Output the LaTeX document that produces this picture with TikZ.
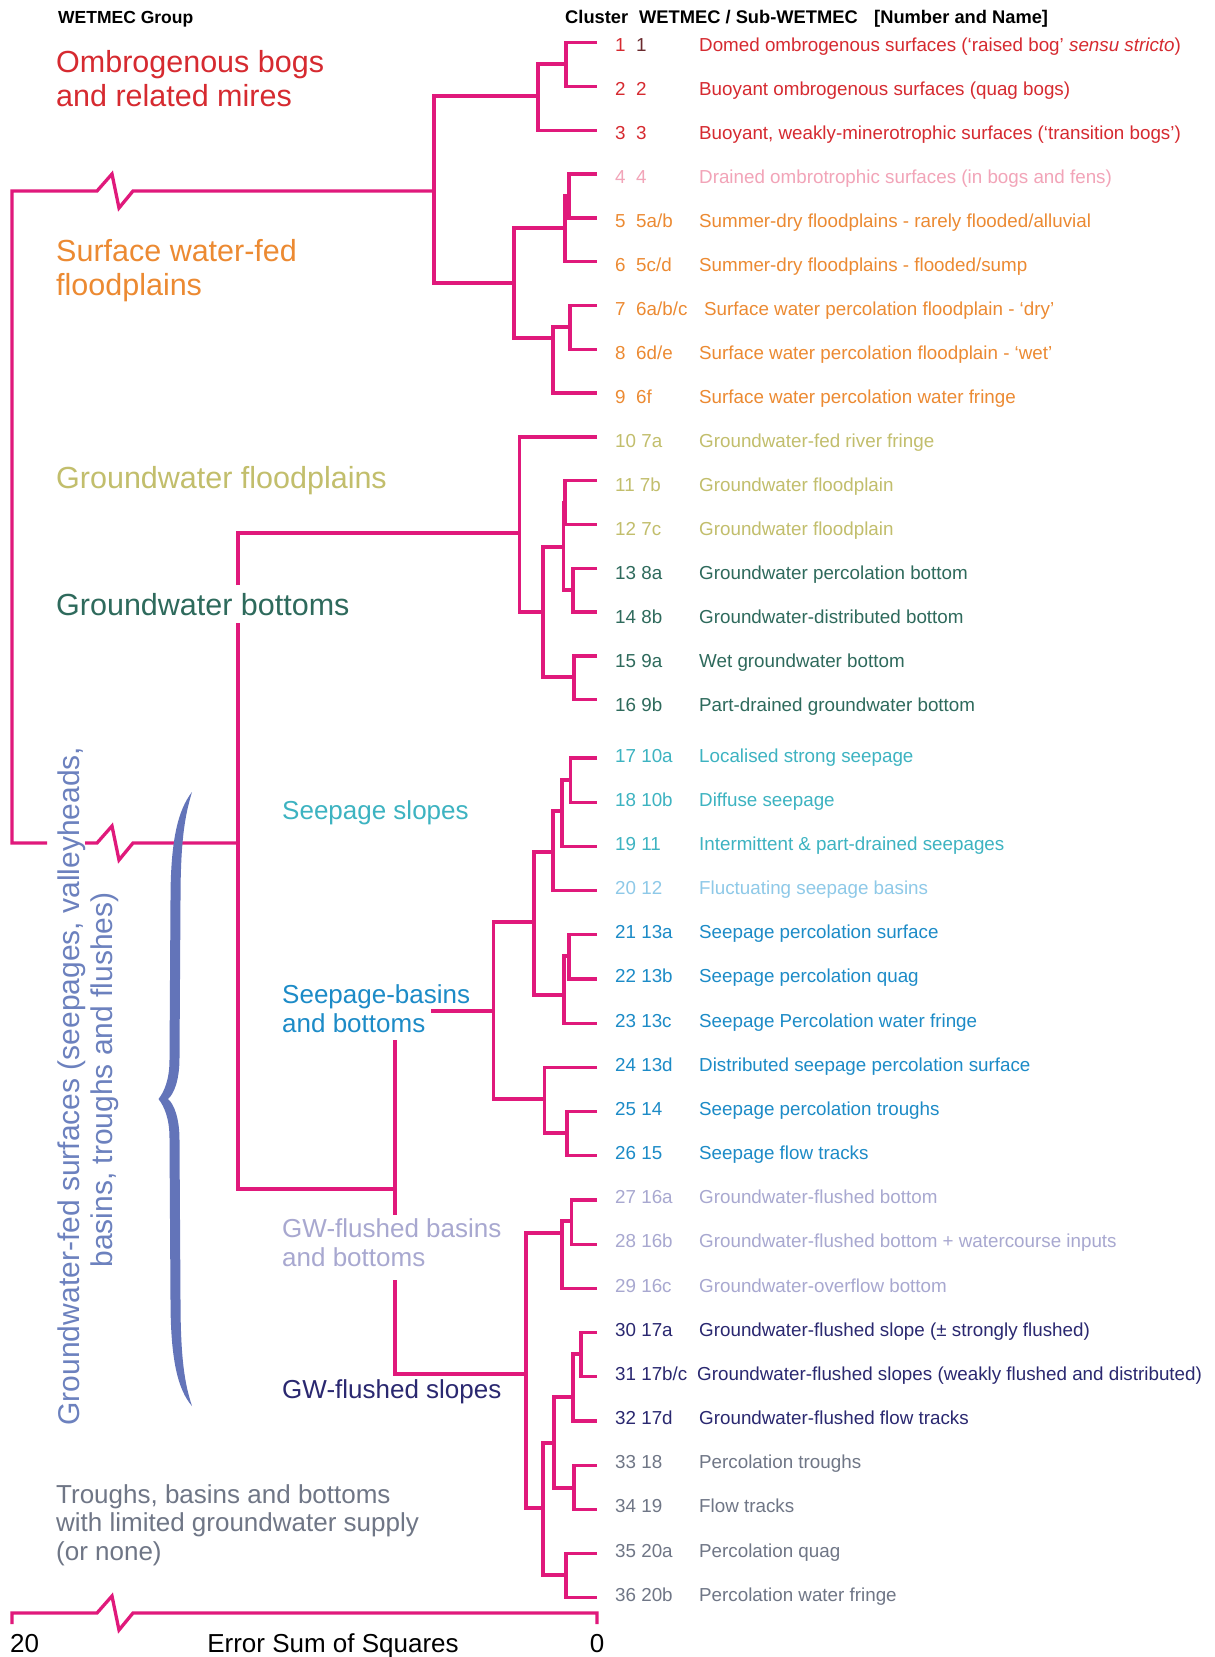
\documentclass[tikz,border=0pt]{standalone}
\usepackage{fontspec}
\setmainfont{Liberation Sans}
\usetikzlibrary{calc}

% palette
\definecolor{mag}{HTML}{E0197B}
\definecolor{cRed}{HTML}{D62A30}
\definecolor{cDark}{HTML}{6A2A2E}
\definecolor{cPink}{HTML}{F2A4B8}
\definecolor{cOrange}{HTML}{EC8A32}
\definecolor{cOlive}{HTML}{C2BE6C}
\definecolor{cDTeal}{HTML}{2E6A5C}
\definecolor{cTeal}{HTML}{3DB3C1}
\definecolor{cLBlue}{HTML}{8EC9E8}
\definecolor{cBlue}{HTML}{1C8BC7}
\definecolor{cLav}{HTML}{A8A8D0}
\definecolor{cNavy}{HTML}{2A2870}
\definecolor{cGrey}{HTML}{6F7686}
\definecolor{cSlate}{HTML}{6C81BE}
\definecolor{cBrace}{HTML}{6374B9}

% type sizes
\newcommand\fLeaf{\fontsize{18.8}{22}\selectfont}
\newcommand\fHead{\fontsize{18.3}{22}\selectfont\bfseries}
\newcommand\fHeadL{\fontsize{17.5}{22}\selectfont\bfseries}
\newcommand\fGrp{\fontsize{30.5}{34}\selectfont}
\newcommand\fSub{\fontsize{26}{29}\selectfont}
\newcommand\fRot{\fontsize{30}{34}\selectfont}

\tikzset{
  br/.style={draw=mag,line width=3.3pt,line join=miter},
  leaf/.style={anchor=base west,inner sep=0pt,font=\fLeaf},
  grp/.style={anchor=base west,inner sep=0pt,font=\fGrp},
  sublbl/.style={anchor=base west,inner sep=0pt,font=\fSub},
  head/.style={anchor=base west,inner sep=0pt},
}

% \jn{name}{x}{y}{child1}{child2}: merge two branches at column x
\newcommand\jn[5]{%
  \coordinate (#1) at (#2,#3);
  \draw[br] (#4) -- (#4 -| #1) -- (#5 -| #1) -- (#5);
}
% \leaf{row}{cluster / code}{name}{colour}
\newcommand\leaf[4]{%
  \node[leaf,text=#4] (k#1) at (T#1) {#2};
  \node[leaf,text=#4] (t#1) at ($(T#1)+(84,0)$) {#3};
}
\newcommand\two[2]{\makebox[21pt][l]{#1}#2}

\begin{document}
\begin{tikzpicture}[x=1pt,y=-1pt]
\useasboundingbox (0,0) rectangle (1215,1657);
\fill[white] (0,0) rectangle (1215,1657);

% leaf tips and label baselines
\foreach \i in {1,...,36}{
  \pgfmathsetmacro\yy{(\i<17) ? 42.7+(\i-1)*43.8 : 758+(\i-17)*44.2}
  \pgfmathsetmacro\ty{(\i<17) ? 51.1+(\i-1)*44.02 : 762.1+(\i-17)*44.16}
  \coordinate (L\i) at (597,\yy);
  \coordinate (T\i) at (615,\ty);
}

% ombrogenous and surface-water branches
\jn{n12}{566}{64}{L1}{L2}
\jn{n123}{538}{96}{n12}{L3}
\jn{n45}{569}{196}{L4}{L5}
\jn{n456}{565}{228}{n45}{L6}
\jn{n78}{570}{327}{L7}{L8}
\jn{n789}{553}{338}{n78}{L9}
\jn{n49}{514}{283}{n456}{n789}
\jn{nA}{434}{191}{n123}{n49}

% groundwater floodplains and bottoms
\jn{n1112}{565}{503}{L11}{L12}
\jn{n1314}{573}{590}{L13}{L14}
\jn{n1114}{563.5}{547}{n1112}{n1314}
\jn{n1516}{574}{677}{L15}{L16}
\jn{n1116}{543}{612}{n1114}{n1516}
\jn{nB}{519.5}{533}{L10}{n1116}

% seepage slopes, basins and bottoms
\jn{n1718}{570.5}{780}{L17}{L18}
\jn{n1719}{562}{811}{n1718}{L19}
\jn{n1720}{553}{852}{n1719}{L20}
\jn{n2122}{569}{956}{L21}{L22}
\jn{n2123}{564}{995}{n2122}{L23}
\jn{n1723}{534}{922}{n1720}{n2123}
\jn{n2526}{567}{1133}{L25}{L26}
\jn{n2426}{544.5}{1099}{L24}{n2526}
\jn{nC}{493.5}{1011}{n1723}{n2426}

% groundwater-flushed branches
\jn{n2728}{571.5}{1221}{L27}{L28}
\jn{n2729}{562}{1233}{n2728}{L29}
\jn{n3031}{581}{1354}{L30}{L31}
\jn{n3032}{573}{1397}{n3031}{L32}
\jn{n3334}{574}{1488}{L33}{L34}
\jn{n3034}{554}{1443}{n3032}{n3334}
\jn{n3536}{566}{1575}{L35}{L36}
\jn{n3036}{543}{1508}{n3034}{n3536}
\jn{nD}{526}{1374}{n2729}{n3036}

% upper joins, broken where labels sit on them
\coordinate (nE) at (395,1189);
\coordinate (nF) at (238,843);
\coordinate (cS) at (431,1011);
\coordinate (eA) at (395,1040);
\coordinate (eB) at (395,1215);
\coordinate (eC) at (395,1280);
\coordinate (fA) at (238,585);
\coordinate (fB) at (238,623);
\coordinate (rA) at (47,843);
\coordinate (rB) at (85,843);
\draw[br] (nC) -- (cS);
\draw[br] (eA) -- (eB);
\draw[br] (eC) -- (nD -| nE) -- (nD);
\draw[br] (nE) -- (nE -| nF) -- (fB);
\draw[br] (fA) -- (nB -| nF) -- (nB);
\draw[br] (nA) -- (133,191) -- (119,208) -- (112,174) -- (97,191)
          -- (12,191) -- (12,843) -- (rA);
\draw[br] (rB) -- (97,843) -- (112,826) -- (119,860) -- (133,843) -- (nF);

% axis
\coordinate (ax0) at (12,1613);
\coordinate (ax1) at (597,1613);
\draw[br] (ax0 |- 0,1624) -- (ax0) -- (97,1613) -- (112,1596) -- (119,1630)
          -- (133,1613) -- (ax1) -- (ax1 |- 0,1624);
\node[sublbl] (a20) at (10,1652) {20};
\node[sublbl,anchor=base] (aT) at (333,1652) {Error Sum of Squares};
\node[sublbl,anchor=base] (a0) at (597,1652) {0};

% headers
\node[head,font=\fHeadL] (h1) at (58,23.5) {WETMEC Group};
\node[head,font=\fHead] (h2) at (565,23.5) {Cluster};
\node[head,font=\fHead] (h3) at (639,23.5) {WETMEC / Sub-WETMEC};
\node[head,font=\fHead] (h4) at (874,23.5) {[Number and Name]};

% leaf labels
\node[leaf,text=cRed] (k1) at (T1) {\two{1}{\textcolor{cDark}{1}}};
\node[leaf,text=cRed] (t1) at ($(T1)+(84,0)$) {Domed ombrogenous surfaces (`raised bog' \textit{sensu stricto})};
\leaf{2}{\two{2}{2}}{Buoyant ombrogenous surfaces (quag bogs)}{cRed}
\leaf{3}{\two{3}{3}}{Buoyant, weakly-minerotrophic surfaces (`transition bogs')}{cRed}
\leaf{4}{\two{4}{4}}{Drained ombrotrophic surfaces (in bogs and fens)}{cPink}
\leaf{5}{\two{5}{5a/b}}{Summer-dry floodplains - rarely flooded/alluvial}{cOrange}
\leaf{6}{\two{6}{5c/d}}{Summer-dry floodplains - flooded/sump}{cOrange}
\leaf{7}{\two{7}{6a/b/c}}{\hspace*{5pt}Surface water percolation floodplain - `dry'}{cOrange}
\leaf{8}{\two{8}{6d/e}}{Surface water percolation floodplain - `wet'}{cOrange}
\leaf{9}{\two{9}{6f}}{Surface water percolation water fringe}{cOrange}
\leaf{10}{10 7a}{Groundwater-fed river fringe}{cOlive}
\leaf{11}{11 7b}{Groundwater floodplain}{cOlive}
\leaf{12}{12 7c}{Groundwater floodplain}{cOlive}
\leaf{13}{13 8a}{Groundwater percolation bottom}{cDTeal}
\leaf{14}{14 8b}{Groundwater-distributed bottom}{cDTeal}
\leaf{15}{15 9a}{Wet groundwater bottom}{cDTeal}
\leaf{16}{16 9b}{Part-drained groundwater bottom}{cDTeal}
\leaf{17}{17 10a}{Localised strong seepage}{cTeal}
\leaf{18}{18 10b}{Diffuse seepage}{cTeal}
\leaf{19}{19 11}{Intermittent \& part-drained seepages}{cTeal}
\leaf{20}{20 12}{Fluctuating seepage basins}{cLBlue}
\leaf{21}{21 13a}{Seepage percolation surface}{cBlue}
\leaf{22}{22 13b}{Seepage percolation quag}{cBlue}
\leaf{23}{23 13c}{Seepage Percolation water fringe}{cBlue}
\leaf{24}{24 13d}{Distributed seepage percolation surface}{cBlue}
\leaf{25}{25 14}{Seepage percolation troughs}{cBlue}
\leaf{26}{26 15}{Seepage flow tracks}{cBlue}
\leaf{27}{27 16a}{Groundwater-flushed bottom}{cLav}
\leaf{28}{28 16b}{Groundwater-flushed bottom + watercourse inputs}{cLav}
\leaf{29}{29 16c}{Groundwater-overflow bottom}{cLav}
\leaf{30}{30 17a}{Groundwater-flushed slope (± strongly flushed)}{cNavy}
\leaf{31}{31 17b/c}{\hspace*{-2pt}Groundwater-flushed slopes (weakly flushed and distributed)}{cNavy}
\leaf{32}{32 17d}{Groundwater-flushed flow tracks}{cNavy}
\leaf{33}{33 18}{Percolation troughs}{cGrey}
\leaf{34}{34 19}{Flow tracks}{cGrey}
\leaf{35}{35 20a}{Percolation quag}{cGrey}
\leaf{36}{36 20b}{Percolation water fringe}{cGrey}

% group labels
\node[grp,text=cRed] (g1a) at (56,72.5) {Ombrogenous bogs};
\node[grp,text=cRed] (g1b) at (56,106.5) {and related mires};
\node[grp,text=cOrange] (g2a) at (56,261) {Surface water-fed};
\node[grp,text=cOrange] (g2b) at (56,295) {floodplains};
\node[grp,text=cOlive] (g3) at (56,488) {Groundwater floodplains};
\node[grp,text=cDTeal] (g4) at (56,615) {Groundwater bottoms};
\node[sublbl,text=cTeal] (g5) at (282,819) {Seepage slopes};
\node[sublbl,text=cBlue] (g6a) at (282,1003.5) {Seepage-basins};
\node[sublbl,text=cBlue] (g6b) at (282,1032.5) {and bottoms};
\node[sublbl,text=cLav] (g7a) at (282,1237) {GW-flushed basins};
\node[sublbl,text=cLav] (g7b) at (282,1266) {and bottoms};
\node[sublbl,text=cNavy] (g8) at (282,1398.5) {GW-flushed slopes};
\node[sublbl,text=cGrey] (g9a) at (56,1503) {Troughs, basins and bottoms};
\node[sublbl,text=cGrey] (g9b) at (56,1531) {with limited groundwater supply};
\node[sublbl,text=cGrey] (g9c) at (56,1560) {(or none)};

% side title and brace
\node[font=\fRot,text=cSlate,rotate=90,anchor=base,inner sep=0pt] (s1) at (79,1086)
  {Groundwater-fed surfaces (seepages, valleyheads,};
\node[font=\fRot,text=cSlate,rotate=90,anchor=base,inner sep=0pt] (s2) at (112.5,1080)
  {basins, troughs and flushes)};
\fill[cBrace] (192,792) .. controls (178,810) and (170.5,840) .. (170.5,900)
  -- (169.5,1060) .. controls (169.5,1080) and (164,1092) .. (158.5,1099)
  .. controls (164,1106) and (169.5,1118) .. (169.5,1138)
  -- (170.5,1300) .. controls (170.5,1360) and (178,1390) .. (192,1406)
  .. controls (185,1385) and (180.5,1360) .. (180.5,1300)
  -- (179.5,1140) .. controls (179.5,1118) and (174,1104) .. (168,1099)
  .. controls (174,1094) and (179.5,1080) .. (179.5,1058)
  -- (180.5,900) .. controls (180.5,840) and (185,815) .. (192,792) -- cycle;
\end{tikzpicture}
\end{document}
